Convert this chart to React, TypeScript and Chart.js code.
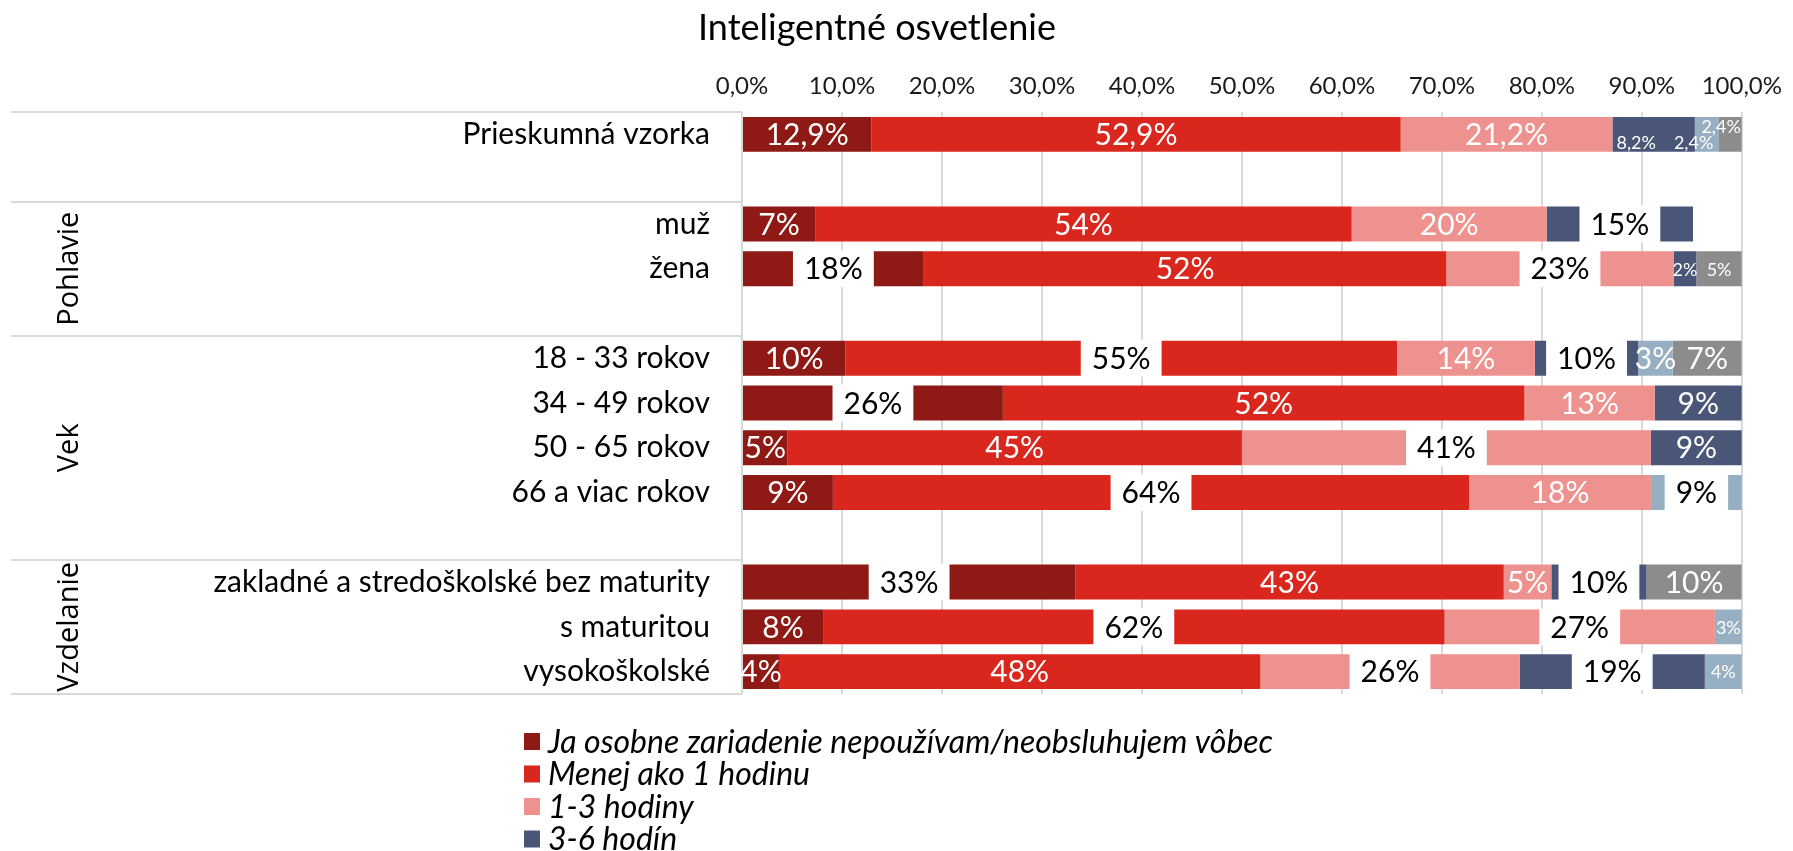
import React, { useEffect, useRef } from 'react';
import { Chart, registerables } from 'chart.js';

Chart.register(...registerables);

// ---------- data ----------
const chartTitle = 'Inteligentné osvetlenie';

const categories = [
  'Prieskumná vzorka',
  '',
  'muž',
  'žena',
  '',
  '18 - 33 rokov',
  '34 - 49 rokov',
  '50 - 65 rokov',
  '66 a viac rokov',
  '',
  'zakladné a stredoškolské bez maturity',
  's maturitou',
  'vysokoškolské',
];

const groupNames = ['Pohlavie', 'Vek', 'Vzdelanie'];
const groupFirstRow = [2, 5, 10];
const groupLastRow = [4, 9, 12];
const separatorRows = [0, 2, 5, 10, 13];

const xTickLabels = ['0,0%', '10,0%', '20,0%', '30,0%', '40,0%', '50,0%', '60,0%', '70,0%', '80,0%', '90,0%', '100,0%'];

const seriesNames = [
  'Ja osobne zariadenie nepoužívam/neobsluhujem vôbec',
  'Menej ako 1 hodinu',
  '1-3 hodiny',
  '3-6 hodín',
  '6-10 hodín',
  'Viac ako 10 hodín',
];

const nepouzivam = [12.94, null, 7.32, 18.18, null, 10.34, 26.09, 4.55, 9.09, null, 33.33, 8.11, 3.7];
const menejAko1 = [52.94, null, 53.66, 52.27, null, 55.17, 52.17, 45.45, 63.64, null, 42.86, 62.16, 48.15];
const hodiny1az3 = [21.18, null, 19.51, 22.73, null, 13.79, 13.04, 40.91, 18.18, null, 4.76, 27.03, 25.93];
const hodin3az6 = [8.24, null, 14.63, 2.27, null, 10.34, 8.7, 9.09, 0, null, 9.52, 0, 18.52];
const hodin6az10 = [2.35, null, 0, 0, null, 3.45, 0, 0, 9.09, null, 0, 2.7, 3.7];
const viacAko10 = [2.35, null, 0, 4.55, null, 6.9, 0, 0, 0, null, 9.52, 0, 0];

const series = [nepouzivam, menejAko1, hodiny1az3, hodin3az6, hodin6az10, viacAko10];

// ---------- styles ----------
const seriesColors = ['#8E1915', '#DA271E', '#EE928F', '#4A5678', '#97AFC3', '#8C8C8C'];

const oneDecimalRows = [0];
const boxedLabels = ['3:2', '0:3', '2:3', '1:5', '3:5', '0:6', '2:7', '1:8', '4:8', '0:10', '3:10', '1:11', '2:11', '2:12', '3:12'];
const smallLabels = ['3:0', '4:0', '5:0', '3:3', '5:3', '4:11', '4:12'];
const anchoredLabels: Record<string, string> = { '3:0': 'bl', '4:0': 'br', '5:0': 'tr' };

const W = 1793;
const H = 851;
const BODY_FONT = "Lato, 'Open Sans', sans-serif";
const GROUP_FONT = "'Open Sans', sans-serif";

function fmt(v: number, row: number) {
  if (oneDecimalRows.includes(row)) return v.toFixed(1).replace('.', ',') + '%';
  return Math.round(v) + '%';
}

const decorPlugin = {
  id: 'decor',
  afterDatasetsDraw(chart: any) {
    const ctx = chart.ctx as CanvasRenderingContext2D;
    ctx.save();
    series.forEach((arr, d) => {
      const meta = chart.getDatasetMeta(d);
      meta.data.forEach((el: any, i: number) => {
        const v = arr[i];
        if (!v) return;
        const p = el.getProps(['x', 'base', 'y', 'height'], true);
        const left = Math.min(p.x, p.base);
        const right = Math.max(p.x, p.base);
        const top = p.y - p.height / 2;
        const bottom = p.y + p.height / 2;
        const key = d + ':' + i;
        const text = fmt(v, i);
        const small = smallLabels.includes(key);
        ctx.font = (small ? 18 : 30) + 'px ' + BODY_FONT;
        ctx.textBaseline = 'middle';
        const anchor = anchoredLabels[key];
        if (anchor) {
          ctx.fillStyle = '#FFFFFF';
          let tx = left + 4;
          let ty = bottom - 9;
          ctx.textAlign = 'left';
          if (anchor === 'br') {
            ctx.textAlign = 'right';
            tx = right - 5;
          } else if (anchor === 'tr') {
            ctx.textAlign = 'right';
            tx = right - 1;
            ty = top + 10;
          }
          ctx.fillText(text, tx, ty);
          return;
        }
        const cx = (left + right) / 2;
        ctx.textAlign = 'center';
        if (boxedLabels.includes(key)) {
          const tw = ctx.measureText(text).width;
          const bw = tw + 22;
          ctx.fillStyle = '#FFFFFF';
          ctx.fillRect(cx - bw / 2, top - 1, bw, p.height + 2);
          ctx.fillStyle = '#000000';
        } else {
          ctx.fillStyle = '#FFFFFF';
        }
        ctx.fillText(text, cx, p.y + 1);
      });
    });
    ctx.restore();
  },
  afterDraw(chart: any) {
    const ctx = chart.ctx as CanvasRenderingContext2D;
    const yScale = chart.scales.y;
    const area = chart.chartArea;
    const rowH = (area.bottom - area.top) / categories.length;
    ctx.save();
    // title
    ctx.fillStyle = '#000000';
    ctx.font = '36px ' + BODY_FONT;
    ctx.textAlign = 'center';
    ctx.textBaseline = 'middle';
    ctx.fillText(chartTitle, 877, 28);

    // category separators
    ctx.strokeStyle = '#D9D9D9';
    ctx.lineWidth = 2;
    separatorRows.forEach((r) => {
      const yy = Math.round(area.top + r * rowH);
      ctx.beginPath();
      ctx.moveTo(11, yy);
      ctx.lineTo(area.left, yy);
      ctx.stroke();
    });

    // group labels
    ctx.font = '29px ' + GROUP_FONT;
    ctx.fillStyle = '#000000';
    groupNames.forEach((g, k) => {
      const y1 = yScale.getPixelForValue(groupFirstRow[k]) - rowH / 2;
      const y2 = yScale.getPixelForValue(groupLastRow[k]) + rowH / 2;
      ctx.save();
      ctx.translate(70, (y1 + y2) / 2);
      ctx.rotate(-Math.PI / 2);
      ctx.textAlign = 'center';
      ctx.textBaseline = 'middle';
      ctx.fillText(g, 0, 0);
      ctx.restore();
    });

    // legend (vertical list, cut off by the canvas edge)
    ctx.font = 'italic 32px ' + BODY_FONT;
    ctx.textAlign = 'left';
    ctx.textBaseline = 'middle';
    seriesNames.forEach((name, k) => {
      const cy = 741.5 + k * 32.5;
      ctx.fillStyle = seriesColors[k];
      ctx.fillRect(524, cy - 8.5, 16, 17);
      ctx.fillStyle = '#000000';
      ctx.fillText(name, 548, cy + 1);
    });
    ctx.restore();
  },
};

export default function App() {
  const canvasRef = useRef<HTMLCanvasElement | null>(null);

  useEffect(() => {
    document.body.style.margin = '0';
    const canvas = canvasRef.current;
    if (!canvas) return;
    const chart = new Chart(canvas, {
      type: 'bar',
      data: {
        labels: categories,
        datasets: series.map((arr, k) => ({
          label: seriesNames[k],
          data: arr,
          backgroundColor: seriesColors[k],
          borderWidth: 0,
          barPercentage: 0.78,
          categoryPercentage: 1,
        })),
      },
      options: {
        indexAxis: 'y',
        responsive: false,
        animation: false,
        devicePixelRatio: 1,
        layout: { padding: { top: 50, right: 46, bottom: 157, left: 0 } },
        plugins: {
          legend: { display: false },
          title: { display: false },
          tooltip: { enabled: false },
        },
        scales: {
          x: {
            type: 'linear',
            position: 'top',
            stacked: true,
            min: 0,
            max: 100,
            ticks: {
              stepSize: 10,
              padding: 11,
              color: '#1a1a1a',
              font: { family: BODY_FONT, size: 24 },
              callback: (_v: any, i: number) => xTickLabels[i],
            },
            grid: { color: '#D9D9D9', lineWidth: 2, drawTicks: false },
            border: { display: false },
            afterFit: (s: any) => {
              s.height = 62;
            },
          },
          y: {
            type: 'category',
            stacked: true,
            ticks: {
              padding: 32,
              color: '#000000',
              autoSkip: false,
              font: { family: BODY_FONT, size: 30 },
            },
            grid: { display: false, drawTicks: false },
            border: { display: false },
            afterFit: (s: any) => {
              s.width = 742;
            },
          },
        },
      },
      plugins: [decorPlugin],
    } as any);
    return () => chart.destroy();
  }, []);

  return (
    <div style={{ width: W, height: H, position: 'relative', background: '#FFFFFF' }}>
      <canvas ref={canvasRef} width={W} height={H} style={{ display: 'block', width: W, height: H }} />
    </div>
  );
}
